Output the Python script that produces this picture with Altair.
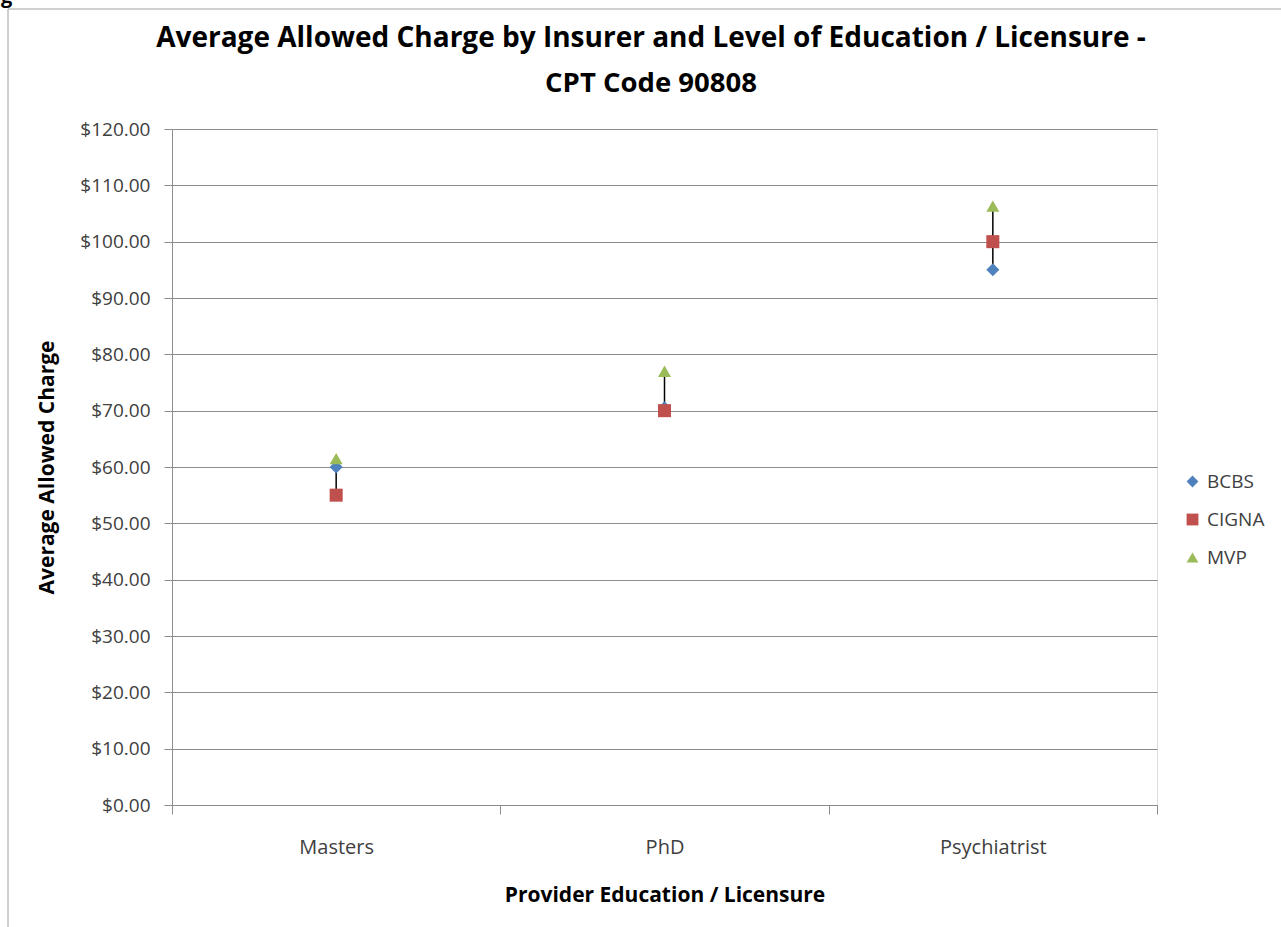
import altair as alt
import pandas as pd

categories = ["Masters", "PhD", "Psychiatrist"]
insurers = ["BCBS", "CIGNA", "MVP"]
bcbs = [60.0, 70.5, 95.0]
cigna = [55.0, 70.0, 100.0]
mvp = [61.5, 77.0, 106.3]
y_ticks = [0, 10, 20, 30, 40, 50, 60, 70, 80, 90, 100, 110, 120]
title_lines = ["Average Allowed Charge by Insurer and Level of Education / Licensure -",
               "CPT Code 90808"]

rows = []
for ins, vals in zip(insurers, [bcbs, cigna, mvp]):
    for c, v in zip(categories, vals):
        rows.append({"Education": c, "Insurer": ins, "Charge": v})
df = pd.DataFrame(rows)

FONT = "Open Sans"
TXT = "#404040"
GRID = "#8c8c8c"

x_enc = alt.X("Education:N", sort=categories,
              scale=alt.Scale(paddingInner=0, paddingOuter=0),
              axis=alt.Axis(title="Provider Education / Licensure", labelAngle=0,
                            tickBand="extent", tickSize=9, tickColor=GRID,
                            domainColor=GRID, labelFontSize=20, labelFont=FONT,
                            labelColor=TXT, labelPadding=23, titleFontSize=21,
                            titleFont=FONT, titleFontWeight="bold", titleColor="black",
                            titlePadding=27, grid=False))
y_scale = alt.Scale(domain=[0, 120], nice=False)
y_axis = alt.Axis(title="Average Allowed Charge", values=y_ticks, format="$,.2f",
                  grid=True, gridColor=GRID, gridWidth=1, tickSize=8, tickColor=GRID,
                  domainColor=GRID, labelFontSize=19, labelFont=FONT, labelColor=TXT,
                  labelPadding=14, titleFontSize=21, titleFont=FONT,
                  titleFontWeight="bold", titleColor="black", titlePadding=22)

base = alt.Chart(df)

hilo = base.mark_rule(color="black", strokeWidth=1.5).encode(
    x=x_enc,
    y=alt.Y("min(Charge):Q", scale=y_scale, axis=y_axis),
    y2="max(Charge):Q",
)

points = base.mark_point(filled=True, opacity=1, size=170).encode(
    x=alt.X("Education:N", sort=categories),
    y=alt.Y("Charge:Q", scale=y_scale),
    color=alt.Color("Insurer:N", sort=insurers,
                    scale=alt.Scale(domain=insurers, range=["#4F81BD", "#C0504D", "#9BBB59"]),
                    legend=alt.Legend(title=None, orient="none", legendX=1011, legendY=343,
                                      labelFontSize=19, labelFont=FONT, labelColor=TXT,
                                      symbolSize=140, rowPadding=18, labelOffset=5,
                                      symbolStrokeWidth=0)),
    shape=alt.Shape("Insurer:N", sort=insurers,
                    scale=alt.Scale(domain=insurers, range=["diamond", "square", "triangle-up"])),
    order=alt.Order("Insurer:N"),
)

one = alt.Data(values=[{}])
frame_left = alt.Chart(one).mark_rule(color="#a0a0a0", strokeWidth=1).encode(
    x=alt.value(-164), y=alt.value(-120), y2=alt.value(800))
frame_top = alt.Chart(one).mark_rule(color="#a0a0a0", strokeWidth=1).encode(
    x=alt.value(-164), x2=alt.value(1115), y=alt.value(-120))
g_text = alt.Chart(one).mark_text(
    text="g", font=FONT, fontSize=20, fontWeight="bold", align="left", baseline="alphabetic",
    color="black").encode(x=alt.value(-171), y=alt.value(-126))
title1 = alt.Chart(one).mark_text(
    text=title_lines[0], font=FONT, fontSize=28, fontWeight="bold", align="center",
    baseline="alphabetic", color="black").encode(x=alt.value(479), y=alt.value(-82))
title2 = alt.Chart(one).mark_text(
    text=title_lines[1], font=FONT, fontSize=27.5, fontWeight="bold", align="center",
    baseline="alphabetic", color="black").encode(x=alt.value(479), y=alt.value(-37))

chart = alt.layer(hilo, points, frame_left, frame_top, g_text, title1, title2).properties(
    width=985, height=676,
    autosize=alt.AutoSizeParams(type="none"),
    padding={"left": 172, "top": 129, "right": 124, "bottom": 122},
).configure_view(stroke=None).configure(background="white")

chart.save("out.html", embed_options={"renderer": "svg", "actions": False})
